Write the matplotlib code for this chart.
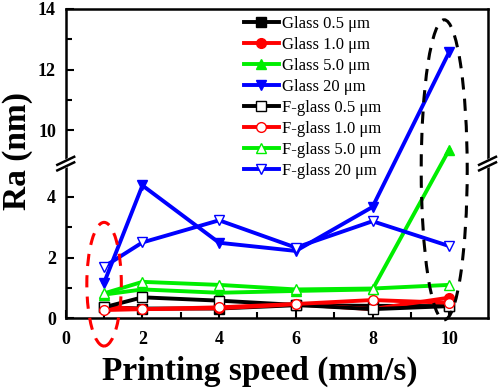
import numpy as np
import matplotlib
matplotlib.use('Agg')
from matplotlib import pyplot as plt
from matplotlib import transforms
from matplotlib.patches import Ellipse

speed = [1, 2, 4, 6, 8, 10]

glass_05 = [0.36, 0.32, 0.32, 0.43, 0.41, 0.40]
glass_10 = [0.38, 0.30, 0.33, 0.46, 0.30, 0.68]
glass_50 = [0.78, 0.95, 0.84, 0.90, 0.95, 9.36]
glass_20 = [1.17, 4.38, 2.49, 2.22, 3.67, 12.58]
fglass_05 = [0.36, 0.69, 0.58, 0.44, 0.30, 0.40]
fglass_10 = [0.27, 0.30, 0.36, 0.47, 0.60, 0.51]
fglass_50 = [0.82, 1.20, 1.10, 0.95, 0.98, 1.10]
fglass_20 = [1.70, 2.50, 3.23, 2.33, 3.20, 2.38]

labels = ['Glass 0.5 \u03bcm', 'Glass 1.0 \u03bcm', 'Glass 5.0 \u03bcm', 'Glass 20 \u03bcm',
          'F-glass 0.5 \u03bcm', 'F-glass 1.0 \u03bcm', 'F-glass 5.0 \u03bcm', 'F-glass 20 \u03bcm']

# broken axis: 5.1 .. 8.9 is cut out
lo, hi = 5.1, 8.9
eps = 1e-4


def forward(v):
    return np.interp(v, [-100, lo, hi, 100], [-100, lo, lo + eps, 100 - (hi - lo) + eps])


def inverse(d):
    return np.interp(d, [-100, lo, lo + eps, 100 - (hi - lo) + eps], [-100, lo, hi, 100])


plt.rcParams['font.family'] = ['Liberation Serif', 'DejaVu Serif']

fig = plt.figure(figsize=(4.98, 3.9), dpi=100)
ax = fig.add_axes([0.132, 0.184, 0.847, 0.793])
ax.set_yscale('function', functions=(forward, inverse))

lw = 2.8
ms = 7
series = [
    (glass_05, 'black', 's', 'black'),
    (glass_10, 'red', 'o', 'red'),
    (glass_50, '#00ee00', '^', '#00ee00'),
    (glass_20, '#0000ff', 'v', '#0000ff'),
    (fglass_05, 'black', 's', 'white'),
    (fglass_10, 'red', 'o', 'white'),
    (fglass_50, '#00ee00', '^', 'white'),
    (fglass_20, '#0000ff', 'v', 'white'),
]
for (vals, c, m, fc), lab in zip(series, labels):
    ax.plot(speed, vals, color=c, lw=lw, marker=m, ms=ms, mfc=fc, mec=c,
            mew=1.0, label=lab, clip_on=False, zorder=3)

ax.set_xlim(0, 11)
ax.set_ylim(0, 14)
ax.set_xticks([0, 2, 4, 6, 8, 10])
ax.set_xticks([1, 3, 5, 7, 9], minor=True)
ax.set_yticks([0, 2, 4, 10, 12, 14])
ax.set_yticks([1, 3, 11, 13], minor=True)
ax.tick_params(which='both', direction='in', width=1.5, top=False, right=False,
               labelsize=13)
ax.tick_params(axis='x', pad=9)
ax.tick_params(axis='y', pad=7)
ax.tick_params(which='major', length=6)
ax.tick_params(which='minor', length=4)
for t in ax.get_xticklabels() + ax.get_yticklabels():
    t.set_fontweight('bold')
for s in ax.spines.values():
    s.set_linewidth(1.8)

ax.set_xlabel('Printing speed (mm/s)', fontsize=24, fontweight='bold')
ax.set_ylabel('Ra (nm)', fontsize=24, fontweight='bold')
ax.xaxis.set_label_coords(0.46, -0.12)
ax.yaxis.set_label_coords(-0.078, 0.54)

# break marks on both spines
yb = 0.5
for xa in [0, 1]:
    ax.plot([xa - 0.014, xa + 0.014], [yb - 0.008, yb + 0.008], transform=ax.transAxes,
            color='white', lw=6, clip_on=False, zorder=5, solid_capstyle='butt')
    for d in [-0.009, 0.009]:
        ax.plot([xa - 0.02, xa + 0.02], [yb + d - 0.013, yb + d + 0.013],
                transform=ax.transAxes, color='black', lw=1.8, clip_on=False, zorder=6)

# dashed ellipses
trans = transforms.blended_transform_factory(ax.transData, ax.transAxes)
ax.add_patch(Ellipse((1.0, 0.11), 0.9, 0.4, transform=trans, fill=False, ec='red',
                     lw=2.2, ls=(0, (4, 3)), clip_on=False, zorder=4))
ax.add_patch(Ellipse((9.87, 0.48), 1.2, 0.97, transform=trans, fill=False, ec='black',
                     lw=2.2, ls=(0, (4, 3)), clip_on=False, zorder=4))

ax.legend(loc='upper left', bbox_to_anchor=(0.398, 1.01), frameon=False, fontsize=12,
          handlelength=2.1, handletextpad=0.2, labelspacing=0.3, numpoints=1,
          borderaxespad=0.2)

fig.savefig('out.png', dpi=100)
